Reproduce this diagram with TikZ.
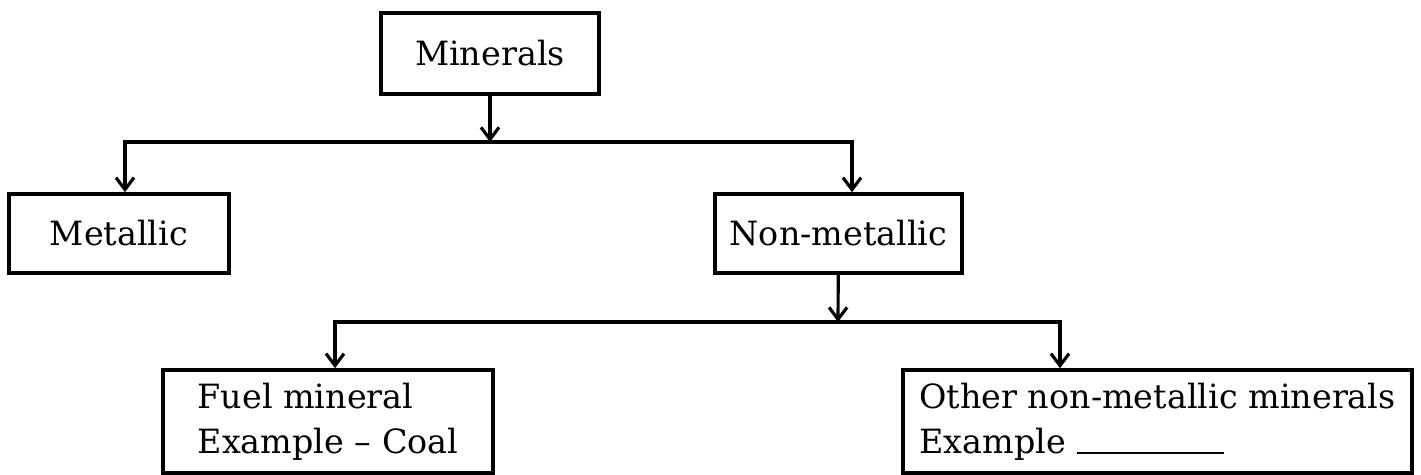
\documentclass[tikz,border=0pt]{standalone}
\usepackage{fontspec}
\setmainfont{DejaVu Serif}
\usetikzlibrary{arrows.meta}
\begin{document}
\begin{tikzpicture}[
    box/.style={draw,line width=2pt,inner sep=0pt,align=left,
                font=\fontsize{19}{25.6}\selectfont},
    arr/.style={line width=1.8pt,-{Straight Barb[length=2.4mm,width=3.6mm,line width=1.8pt]}}]
                  \useasboundingbox (0,0) rectangle (28.42,-9.50);
                  % boxes
                  \node[box,minimum width=4.36cm,minimum height=1.62cm] (min) at (9.80,-1.07) {Minerals};
                  \node[box,minimum width=4.40cm,minimum height=1.58cm] (met) at (2.38,-4.67) {Metallic};
                  \node[box,minimum width=4.94cm,minimum height=1.58cm] (nonmet) at (16.77,-4.67) {Non-metallic};
                  \node[box,minimum width=6.60cm,minimum height=2.06cm] (fuel) at (6.56,-8.43)
                        {Fuel mineral\\Example -- Coal};
                  \node[box,minimum width=10.18cm,minimum height=2.06cm] (other) at (23.15,-8.43)
                        {Other non-metallic minerals\\Example \rule[-0.5pt]{2.94cm}{1.2pt}};
                  % branch points
                  \coordinate (j1) at (9.80,-2.84);
                  \coordinate (j2) at (16.76,-6.44);
                  % connectors
                  \draw[arr] (min) -- (j1);
                  \draw[arr] (j1) -| ([xshift=0.12cm]met.north);
                  \draw[arr] (j1) -| ([xshift=0.27cm]nonmet.north);
                  \draw[arr] (nonmet) -- (j2);
                  \draw[arr] (j2) -| ([xshift=0.14cm]fuel.north);
                  \draw[arr] (j2) -| ([xshift=-1.95cm]other.north);
\end{tikzpicture}
\end{document}
